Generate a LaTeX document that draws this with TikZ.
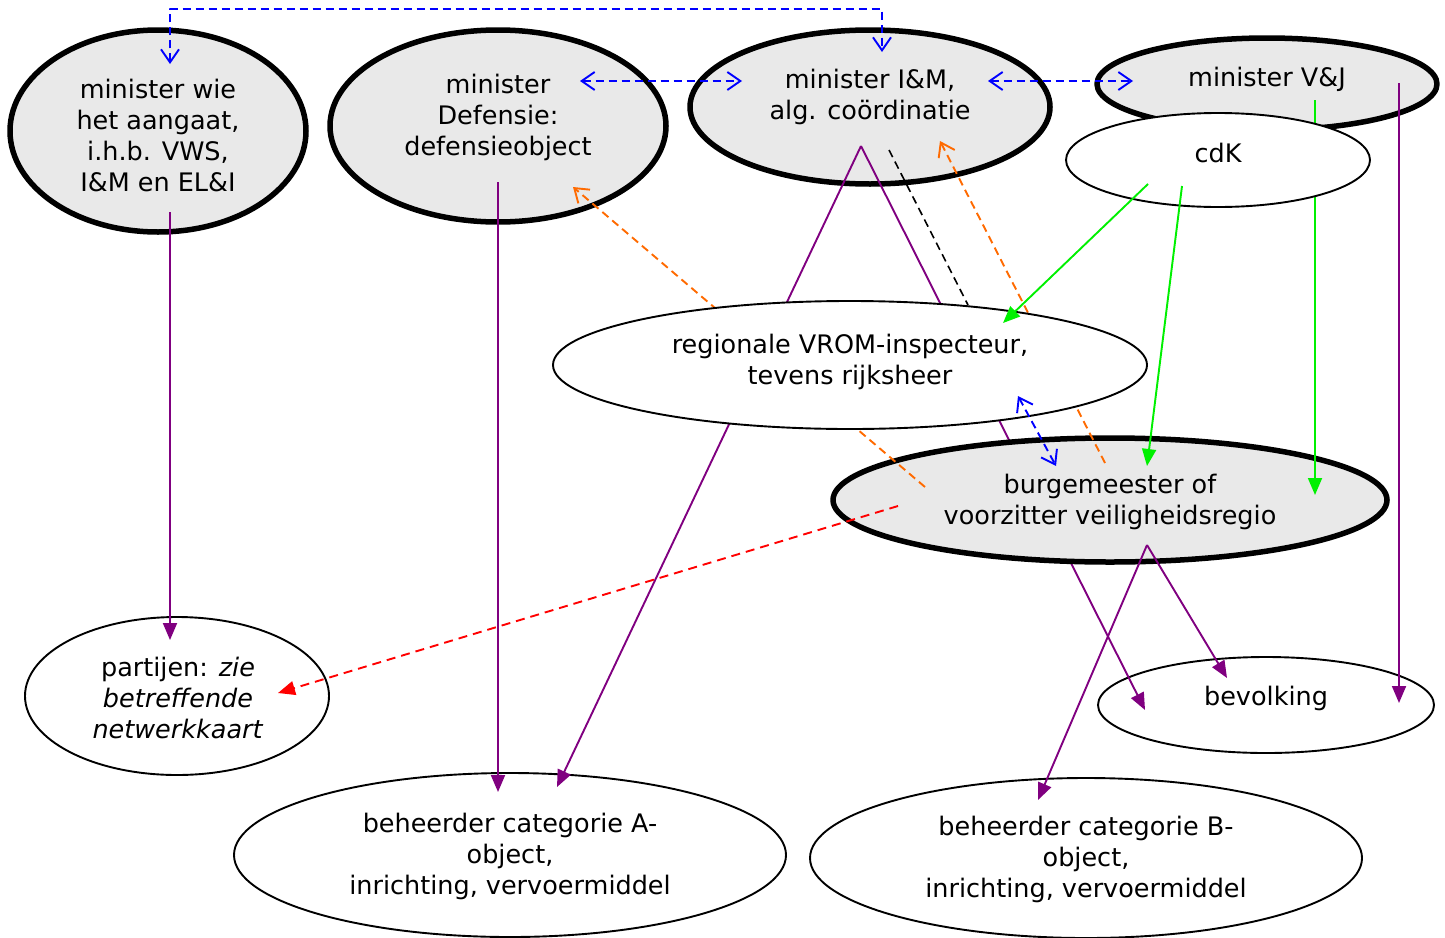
\documentclass[tikz,border=0pt]{standalone}
\usepackage{fontspec}
\setmainfont{DejaVu Sans}
\usetikzlibrary{arrows.meta,shapes.geometric}
\definecolor{nodegray}{HTML}{E9E9E9}
\definecolor{epurple}{HTML}{800080}
\definecolor{egreen}{HTML}{00F000}
\definecolor{eblue}{HTML}{0000FF}
\definecolor{eorange}{HTML}{FF6A00}
\definecolor{ered}{HTML}{FF0000}
\begin{document}
\begin{tikzpicture}[x=1pt,y=-1pt,line join=round,
  grayell/.style={ellipse,draw=black,line width=5.5pt,fill=nodegray,inner sep=0pt},
  whiteell/.style={ellipse,draw=black,line width=1.9pt,fill=white,inner sep=0pt},
  lbl/.style={align=center,font=\fontsize{25.5}{31}\selectfont,inner sep=0pt},
  purpedge/.style={draw=epurple,line width=1.9pt,-{Triangle[length=17pt,width=14pt]}},
  greenedge/.style={draw=egreen,line width=1.9pt,-{Triangle[length=17pt,width=14pt]}},
  rededge/.style={draw=ered,line width=1.9pt,dash pattern=on 9pt off 6pt,-{Triangle[length=17pt,width=14pt]}},
  blueedge/.style={draw=eblue,line width=1.9pt,dash pattern=on 8pt off 5pt,{Straight Barb[length=13pt,width=18pt]}-{Straight Barb[length=13pt,width=18pt]}},
  orangeedge/.style={draw=eorange,line width=1.9pt,dash pattern=on 8pt off 5pt,-{Straight Barb[length=13pt,width=18pt]}},
  blackedge/.style={draw=black,line width=1.6pt,dash pattern=on 8pt off 5pt},
]
\useasboundingbox (0,0) rectangle (1445,937);
% base nodes
\node[grayell,minimum width=296pt,minimum height=202pt] (mWie) at (158,131) {};
\node[grayell,minimum width=336pt,minimum height=192pt] (mDef) at (498,126) {};
\node[grayell,minimum width=360pt,minimum height=154pt] (mIM) at (870,107) {};
\node[grayell,minimum width=340pt,minimum height=92pt] (mVJ) at (1267,84) {};
\node[whiteell,minimum width=304pt,minimum height=158pt] (partijen) at (177,696) {};
\node[whiteell,minimum width=336pt,minimum height=96pt] (bevolking) at (1266,705) {};
\node[whiteell,minimum width=552pt,minimum height=164pt] (beheerA) at (510,855) {};
\node[whiteell,minimum width=552pt,minimum height=160pt] (beheerB) at (1086,858) {};
% connector end points
\coordinate (imApex) at (861,146);
\coordinate (beAin1) at (557,787);
\coordinate (bevIn1) at (1145,710);
\coordinate (imBlk) at (889,150);
\coordinate (vromBlk) at (968,305);
% edges behind burg / VROM
\draw[purpedge] (imApex) -- (beAin1);
\draw[purpedge] (imApex) -- (bevIn1);
\draw[blackedge] (imBlk) -- (vromBlk);
% burgemeester
\node[grayell,minimum width=554pt,minimum height=124pt] (burg) at (1110,500) {};
\coordinate (vjG) at (1315,100);
\coordinate (burgG2) at (1315,495);
\coordinate (burgO1) at (925,487);
\coordinate (defO1) at (573,187);
\coordinate (burgO2) at (1105,463);
\coordinate (imO2) at (940,141);
\draw[greenedge] (vjG) -- (burgG2);
\draw[orangeedge] (burgO1) -- (defO1);
\draw[orangeedge] (burgO2) -- (imO2);
% cdK and VROM on top
\node[whiteell,minimum width=304pt,minimum height=94pt] (cdK) at (1218,160) {};
\node[whiteell,minimum width=594pt,minimum height=128pt] (VROM) at (850,365) {};
% remaining edges
\coordinate (wieP) at (170,212);
\coordinate (parIn) at (170,640);
\coordinate (defP) at (498,182);
\coordinate (beAin2) at (498,792);
\coordinate (burgApex) at (1147,545);
\coordinate (bevIn2) at (1227,678);
\coordinate (beBin) at (1038,800);
\coordinate (vjP) at (1399,83);
\coordinate (bevIn3) at (1399,703);
\coordinate (cdkG1) at (1148,184);
\coordinate (vromG) at (1003,323);
\coordinate (cdkG2) at (1182,186);
\coordinate (burgG1) at (1147,466);
\coordinate (burgR) at (898,506);
\coordinate (parR) at (278,693);
\coordinate (wieB) at (170,64);
\coordinate (topMid) at (526,9);
\coordinate (imB1) at (882,52);
\coordinate (defB) at (580,81);
\coordinate (imB2) at (742,81);
\coordinate (imB3) at (988,81);
\coordinate (vjB) at (1133,81);
\coordinate (vromB) at (1018,396);
\coordinate (burgB) at (1056,466);
\draw[purpedge] (wieP) -- (parIn);
\draw[purpedge] (defP) -- (beAin2);
\draw[purpedge] (burgApex) -- (bevIn2);
\draw[purpedge] (burgApex) -- (beBin);
\draw[purpedge] (vjP) -- (bevIn3);
\draw[greenedge] (cdkG1) -- (vromG);
\draw[greenedge] (cdkG2) -- (burgG1);
\draw[rededge] (burgR) -- (parR);
\draw[blueedge] (wieB) |- (topMid) -| (imB1);
\draw[blueedge] (defB) -- (imB2);
\draw[blueedge] (imB3) -- (vjB);
\draw[blueedge] (vromB) -- (burgB);
% labels
\node[lbl] (mWieT) at (158,135) {minister wie\\het aangaat,\\i.h.b. VWS,\\I\&M en EL\&I};
\node[lbl] (mDefT) at (498,117) {minister\\Defensie:\\defensieobject};
\node[lbl] (mIMT) at (870,97) {minister I\&M,\\alg. coördinatie};
\node[lbl] (mVJT) at (1267,79) {minister V\&J};
\node[lbl] (cdKT) at (1218,153) {cdK};
\node[lbl] (VROMT) at (850,362) {regionale VROM-inspecteur,\\tevens rijksheer};
\node[lbl] (burgT) at (1110,502) {burgemeester of\\voorzitter veiligheidsregio};
\node[lbl] (partijenT) at (178,698) {partijen: \textit{zie}\\\textit{betreffende}\\\textit{netwerkkaart}};
\node[lbl] (bevolkingT) at (1266,698) {bevolking};
\node[lbl] (beheerAT) at (510,856) {beheerder categorie A-\\object,\\inrichting, vervoermiddel};
\node[lbl] (beheerBT) at (1086,859) {beheerder categorie B-\\object,\\inrichting, vervoermiddel};
\end{tikzpicture}
\end{document}
